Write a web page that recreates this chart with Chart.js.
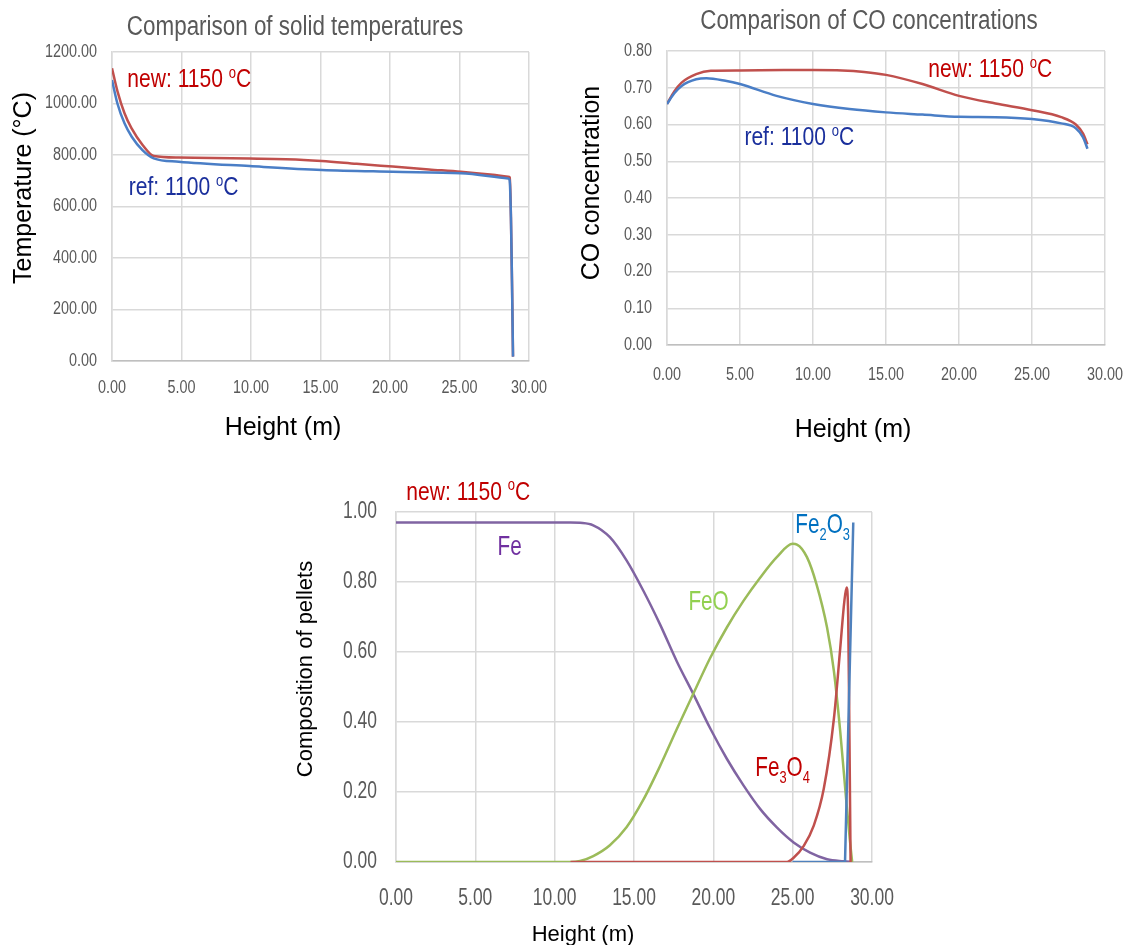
<!DOCTYPE html>
<html>
<head>
<meta charset="utf-8">
<script src="https://cdn.jsdelivr.net/npm/chart.js@4.4.1/dist/chart.umd.min.js"></script>
<style>
  body { margin: 0; background: #fff; width: 1126px; height: 945px; position: relative; overflow: hidden; }
  .box { position: absolute; }
</style>
</head>
<body>
<div class="box" style="left:0;top:0;width:560px;height:450px"><canvas id="temp"></canvas></div>
<div class="box" style="left:560px;top:0;width:566px;height:450px"><canvas id="co"></canvas></div>
<div class="box" style="left:280px;top:460px;width:620px;height:485px"><canvas id="comp"></canvas></div>
<script>
// --- solid temperature (°C) against height (m)
const tempNewH = [0, 0.4, 0.9, 1.4, 2.2, 3.0, 4.8, 9.9, 13.8, 15.1, 17.6, 20.2, 22.8, 25.1, 27.4, 28.5, 28.62, 28.7, 28.78, 28.85];
const tempNew  = [1137, 1046, 962, 904, 839, 796, 790, 786, 781, 777, 766, 755, 744, 735, 723, 716, 713, 560, 300, 17];
const tempRefH = [0, 0.39, 0.9, 1.42, 2.19, 3.0, 4.8, 9.9, 15.1, 20.2, 25.1, 28.5, 28.6, 28.7, 28.76, 28.85];
const tempRef  = [1091, 1000, 923, 871, 819, 787, 774, 757, 742, 735, 729, 709, 703, 560, 366, 17];

// --- CO concentration against height (m)
const coNewH = [0, 0.5, 1, 2, 3, 5, 8, 10, 12, 13.5, 15, 17.5, 20, 22.5, 25, 27, 28, 28.5, 28.8];
const coNew  = [0.656, 0.69, 0.714, 0.737, 0.746, 0.747, 0.748, 0.748, 0.747, 0.743, 0.735, 0.71, 0.678, 0.657, 0.639, 0.62, 0.60, 0.575, 0.546];
const coRefH = [0, 0.5, 1, 2, 2.7, 4, 5, 7.5, 10, 12.5, 15, 17.5, 20, 22.5, 25, 27, 28, 28.5, 28.8];
const coRef  = [0.656, 0.685, 0.705, 0.723, 0.726, 0.719, 0.71, 0.678, 0.656, 0.642, 0.633, 0.627, 0.621, 0.62, 0.615, 0.603, 0.59, 0.565, 0.534];

// --- pellet composition against height (m), new: 1150 oC
const feH    = [0, 11, 11.6, 12.43, 13.48, 14.54, 15.59, 16.64, 17.7, 18.75, 19.8, 20.85, 21.9, 22.96, 24.0, 25.06, 26.1, 27.17, 28.2, 28.8];
const fe     = [0.97, 0.97, 0.969, 0.962, 0.928, 0.861, 0.775, 0.679, 0.573, 0.479, 0.382, 0.295, 0.219, 0.151, 0.099, 0.056, 0.027, 0.008, 0.002, 0];
const feoH   = [0, 11.0, 11.6, 12.43, 13.48, 14.54, 15.59, 16.64, 17.7, 18.75, 19.8, 20.85, 21.9, 22.96, 24.0, 25.0, 25.27, 25.9, 26.5, 27.17, 27.6, 28.0, 28.33, 28.6, 28.75];
const feo    = [0, 0, 0.003, 0.017, 0.048, 0.1, 0.178, 0.274, 0.38, 0.482, 0.583, 0.67, 0.746, 0.813, 0.871, 0.909, 0.907, 0.871, 0.794, 0.669, 0.545, 0.372, 0.2, 0.065, 0];
const fe3o4H = [11.0, 24.64, 25.06, 25.7, 26.33, 26.96, 27.6, 28.0, 28.26, 28.4, 28.5, 28.58, 28.65];
const fe3o4  = [0, 0, 0.012, 0.046, 0.104, 0.209, 0.41, 0.612, 0.746, 0.784, 0.7, 0.35, 0];
const fe2o3H = [25.0, 28.3, 28.82];
const fe2o3  = [0, 0, 0.97];

const heightTicks = [0, 5, 10, 15, 20, 25, 30];

const SANS = '"Liberation Sans", Arial, sans-serif';
const GREY = '#595959';

const pts = (xs, ys) => xs.map((x, i) => ({x: x, y: ys[i]}));

// draws text made of parts; [str, 1] is superscript, [str, -1] subscript
function drawRich(ctx, parts, size, align) {
  const segs = parts.map(p => {
    const s = typeof p === 'string' ? p : p[0];
    const k = typeof p === 'string' ? 0 : p[1];
    const fs = k ? size * 0.62 : size;
    ctx.font = fs + 'px ' + SANS;
    return {s, k, fs, w: ctx.measureText(s).width};
  });
  const total = segs.reduce((a, g) => a + g.w, 0);
  let cx = align === 'center' ? -total / 2 : (align === 'right' ? -total : 0);
  ctx.textAlign = 'left';
  segs.forEach(g => {
    ctx.font = g.fs + 'px ' + SANS;
    const dy = g.k > 0 ? -size * 0.36 : (g.k < 0 ? size * 0.24 : 0);
    ctx.fillText(g.s, cx, dy);
    cx += g.w;
  });
}

function putText(ctx, it) {
  ctx.save();
  ctx.translate(it.x, it.y);
  if (it.rotate) ctx.rotate(it.rotate);
  ctx.scale(it.sx || 1, 1);
  ctx.fillStyle = it.color;
  ctx.textBaseline = it.baseline || 'alphabetic';
  drawRich(ctx, it.parts, it.size, it.align);
  ctx.restore();
}

const textPlugin = {
  id: 'texts',
  afterDraw(chart, args, opts) {
    const ctx = chart.ctx, area = chart.chartArea;
    const xs = chart.scales.x, ys = chart.scales.y, tk = opts.ticks;
    const tickText = {size: tk.size, sx: tk.sx, color: GREY, baseline: 'middle'};
    xs.ticks.forEach(t => putText(ctx, Object.assign({}, tickText, {
      x: xs.getPixelForValue(t.value), y: area.bottom + tk.xGap, parts: [t.value.toFixed(2)], align: 'center'})));
    ys.ticks.forEach(t => putText(ctx, Object.assign({}, tickText, {
      x: area.left - tk.yGap, y: ys.getPixelForValue(t.value), parts: [t.value.toFixed(2)], align: 'right'})));
    (opts.items || []).forEach(it => {
      const p = Object.assign({}, it);
      if (it.data) {
        p.x = xs.getPixelForValue(it.x);
        p.y = ys.getPixelForValue(it.y);
      }
      putText(ctx, p);
    });
  }
};

function lineSet(label, data, color, order, straight) {
  return {
    label, data, order,
    borderColor: color, backgroundColor: color,
    borderWidth: 2.5, pointRadius: 0,
    cubicInterpolationMode: straight ? 'default' : 'monotone',
    tension: 0, fill: false
  };
}

function makeChart(id, cfg) {
  return new Chart(document.getElementById(id), {
    type: 'line',
    data: {datasets: cfg.datasets},
    options: {
      responsive: true, maintainAspectRatio: false, animation: false,
      layout: {padding: cfg.padding},
      plugins: {legend: {display: false}, tooltip: {enabled: false},
                texts: {items: cfg.texts, ticks: cfg.ticks}},
      scales: {
        x: {
          type: 'linear', min: 0, max: 30,
          afterBuildTicks: s => { s.ticks = heightTicks.map(v => ({value: v})); },
          afterFit: s => { s.height = cfg.xHeight; },
          grid: {color: '#d9d9d9', lineWidth: 1.5, drawTicks: false},
          border: {color: '#bfbfbf', width: 1.5},
          ticks: {display: false}
        },
        y: {
          min: cfg.yMin, max: cfg.yMax,
          afterFit: s => { s.width = cfg.yWidth; },
          grid: {color: '#d9d9d9', lineWidth: 1.5, drawTicks: false},
          border: {color: '#d9d9d9', width: 1.5},
          ticks: {display: false, stepSize: cfg.yStep}
        }
      }
    },
    plugins: [textPlugin]
  });
}

const RED_TXT = '#c00000', NAVY_TXT = '#1a2f9c';
const RED_LINE = '#c0504d', BLUE_LINE = '#4a7ec6';

makeChart('temp', {
  padding: {left: 0, top: 52, right: 31, bottom: 0},
  yWidth: 112, xHeight: 89,
  ticks: {size: 18, sx: 0.8, xGap: 27, yGap: 15},
  yMin: 0, yMax: 1200, yStep: 200,
  datasets: [
    lineSet('ref: 1100 oC', pts(tempRefH, tempRef), BLUE_LINE, 1),
    lineSet('new: 1150 oC', pts(tempNewH, tempNew), RED_LINE, 2)
  ],
  texts: [
    {x: 295, y: 28, parts: ['Comparison of solid temperatures'], size: 27, sx: 0.83, color: GREY, align: 'center', baseline: 'middle'},
    {x: 24, y: 188, rotate: -Math.PI / 2, parts: ['Temperature (°C)'], size: 25, color: '#000', align: 'center', baseline: 'middle'},
    {x: 283, y: 428, parts: ['Height (m)'], size: 25, color: '#000', align: 'center', baseline: 'middle'},
    {data: true, x: 1.1, y: 1063, parts: ['new: 1150 ', ['o', 1], 'C'], size: 26, sx: 0.81, color: RED_TXT},
    {data: true, x: 1.2, y: 645, parts: ['ref: 1100 ', ['o', 1], 'C'], size: 26, sx: 0.81, color: NAVY_TXT}
  ]
});

makeChart('co', {
  padding: {left: 0, top: 51, right: 21, bottom: 0},
  yWidth: 107, xHeight: 105,
  ticks: {size: 18, sx: 0.8, xGap: 30, yGap: 15},
  yMin: 0, yMax: 0.8, yStep: 0.1,
  datasets: [
    lineSet('ref: 1100 oC', pts(coRefH, coRef), BLUE_LINE, 1),
    lineSet('new: 1150 oC', pts(coNewH, coNew), RED_LINE, 2)
  ],
  texts: [
    {x: 309, y: 22, parts: ['Comparison of CO concentrations'], size: 27, sx: 0.83, color: GREY, align: 'center', baseline: 'middle'},
    {x: 32, y: 183, rotate: -Math.PI / 2, parts: ['CO concentration'], size: 25, color: '#000', align: 'center', baseline: 'middle'},
    {x: 293, y: 430, parts: ['Height (m)'], size: 25, color: '#000', align: 'center', baseline: 'middle'},
    {data: true, x: 17.9, y: 0.728, parts: ['new: 1150 ', ['o', 1], 'C'], size: 26, sx: 0.81, color: RED_TXT},
    {data: true, x: 5.3, y: 0.543, parts: ['ref: 1100 ', ['o', 1], 'C'], size: 26, sx: 0.81, color: NAVY_TXT}
  ]
});

makeChart('comp', {
  padding: {left: 0, top: 52, right: 28, bottom: 0},
  yWidth: 116, xHeight: 83,
  ticks: {size: 23, sx: 0.76, xGap: 37, yGap: 19},
  yMin: 0, yMax: 1, yStep: 0.2,
  datasets: [
    lineSet('Fe2O3', pts(fe2o3H, fe2o3), '#4f81bd', 1, true),
    lineSet('Fe3O4', pts(fe3o4H, fe3o4), RED_LINE, 2),
    lineSet('FeO', pts(feoH, feo), '#9bbb59', 3),
    lineSet('Fe', pts(feH, fe), '#8064a2', 4)
  ],
  texts: [
    {x: 26, y: 209, rotate: -Math.PI / 2, parts: ['Composition of pellets'], size: 22, color: '#000', align: 'center', baseline: 'middle'},
    {x: 303, y: 475, parts: ['Height (m)'], size: 22, color: '#000', align: 'center', baseline: 'middle'},
    {data: true, x: 0.65, y: 1.035, parts: ['new: 1150 ', ['o', 1], 'C'], size: 26, sx: 0.81, color: RED_TXT},
    {data: true, x: 6.4, y: 0.878, parts: ['Fe'], size: 28, sx: 0.74, color: '#7030a0'},
    {data: true, x: 18.43, y: 0.719, parts: ['FeO'], size: 28, sx: 0.74, color: '#92d050'},
    {data: true, x: 22.64, y: 0.245, parts: ['Fe', ['3', -1], 'O', ['4', -1]], size: 28, sx: 0.74, color: RED_TXT},
    {data: true, x: 25.17, y: 0.94, parts: ['Fe', ['2', -1], 'O', ['3', -1]], size: 28, sx: 0.74, color: '#0070c0'}
  ]
});
</script>
</body>
</html>
